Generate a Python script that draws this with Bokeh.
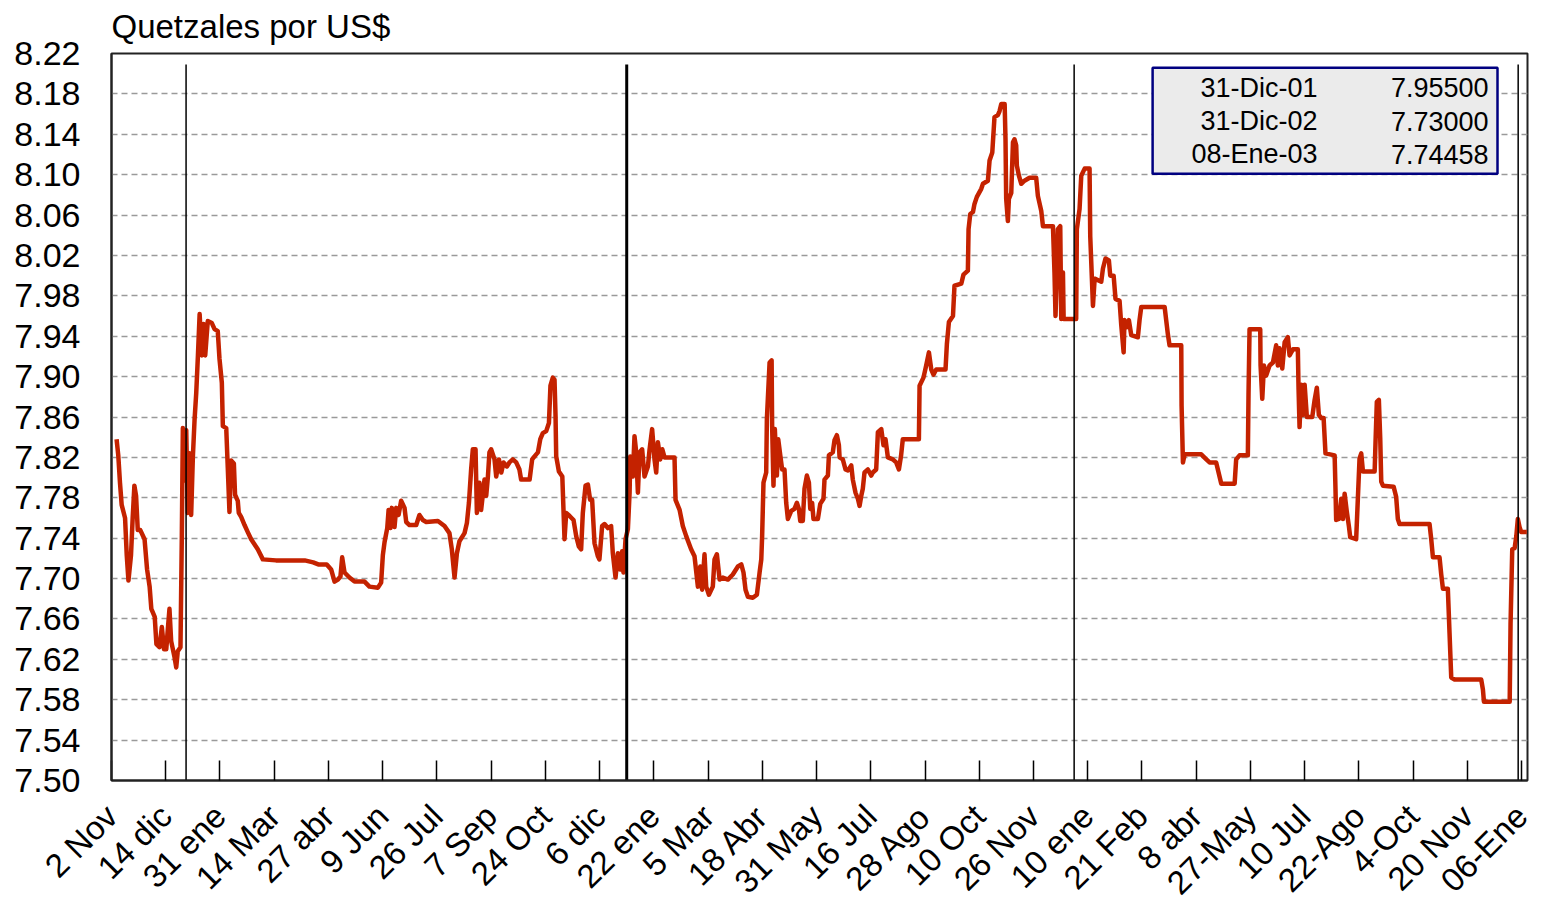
import math
from bokeh.plotting import figure
from bokeh.models import Range1d, FixedTicker, PrintfTickFormatter
from bokeh.core.properties import value
from bokeh.embed import file_html
from bokeh.resources import INLINE

# ---------------- data ----------------
# observation index (trading days since 2-Nov-1999) and exchange rate
obs_index = [
    3, 4, 5, 6, 8, 9, 10, 11.5, 12.5, 13.5, 14.5, 15.5, 17, 19.5, 21, 22.5, 23.5, 25.5, 26.5, 28.3,
    29.7, 31, 32.3, 34.2, 35.2, 37.2, 38.2, 39.1, 40.7, 41.5, 42.1, 43.1, 44.1, 45, 46, 47, 48, 49, 50, 51,
    52, 53.3, 54.3, 55.3, 56.8, 59.2, 60.8, 62.7, 63.7, 65.1, 65.7, 67.7, 68.6, 69.6, 70.6, 72.2, 72.9, 74.5, 75.1, 76.5,
    78.5, 80.4, 82.4, 86.3, 89.3, 97, 114, 119, 122, 127, 129.6, 131.6, 133.6, 135.1, 136.1, 137.5, 140.4, 143.4, 149.3, 152.2,
    157.2, 159.1, 160.1, 161.1, 162.7, 163.5, 164.6, 165.4, 167, 168, 169.4, 170.9, 172.9, 173.9, 175.8, 179.8, 181.7, 183.7, 185.7, 192.6,
    196.5, 199.4, 200.8, 202.4, 203.8, 205.3, 208.3, 209.7, 210.9, 212.2, 213.2, 214.8, 215.6, 217.1, 218.1, 220.1, 221.1, 222.1, 223, 224,
    226, 227, 228.6, 230, 231.3, 233.3, 234.8, 236.8, 238.8, 240.7, 241.7, 246.7, 248.2, 249.6, 251.6, 253, 254.5, 256.5, 258.1, 259,
    260.4, 261.4, 262, 262.4, 264, 266, 267.3, 268.3, 270.3, 272.6, 274.2, 275.7, 277.1, 278.1, 279.7, 281.1, 282.4, 283.6, 285, 287,
    287.9, 289.5, 290.9, 292.9, 294.8, 295.8, 297.4, 298.8, 300.1, 301.3, 302.1, 303.3, 304.7, 305.7, 306.1, 307.6, 308.6, 309.6, 310.6, 311.6,
    313.1, 314.5, 316.5, 317.5, 319, 320.4, 321.4, 322.4, 323.8, 325, 326.3, 332.2, 332.8, 335.2, 337.1, 339.1, 342, 344, 346, 347.4,
    348.5, 349.9, 350.9, 352.5, 354.8, 355.8, 357.2, 358.8, 360.7, 363.7, 366.6, 369.6, 371.6, 372.9, 374.1, 375.5, 378.4, 380.8, 382.4, 383.4,
    383.9, 384.7, 386.3, 386.7, 388.3, 389.5, 389.8, 390.6, 391.4, 392.6, 393.4, 394.6, 395.7, 397.1, 398.1, 399.1, 401.1, 403, 404.4, 405.6,
    406.4, 407.9, 408.9, 410.3, 411.5, 412.3, 413.4, 414.2, 416.8, 418.2, 420.1, 420.7, 422.7, 423.3, 425.6, 426.6, 428, 429.2, 429.6, 431.5,
    433.1, 434.5, 436.5, 437.4, 439, 440.4, 441.4, 442.4, 443.3, 444.3, 446.3, 448.3, 449.2, 451.2, 452.2, 454.2, 455.5, 456.7, 458.1, 461,
    463, 464.6, 465.9, 466.9, 476.4, 476.8, 479.1, 480.7, 482.3, 483.7, 485, 486.6, 492.1, 492.9, 494.1, 496.5, 497.4, 501.4, 502.7, 505.3,
    505.7, 506.7, 508.3, 509.2, 510.6, 513.2, 514.2, 517.1, 518.1, 519.7, 521, 523, 524, 525, 527, 527.5, 527.9, 528.9, 529.5, 530.9,
    531.9, 532.8, 533.8, 534.2, 535.4, 536.8, 538.7, 541.7, 545.6, 546.6, 548.6, 549.6, 555.5, 556.4, 557, 557.8, 558.4, 559.8, 560.4, 561.4,
    561.8, 569.2, 569.6, 571.2, 572.2, 574.2, 577.1, 577.5, 579.1, 580.1, 584, 585, 586.5, 588.5, 589.3, 591.3, 592.4, 594.8, 595.8, 597.2,
    597.7, 599.1, 600.3, 601.7, 605.6, 606.6, 607.6, 621.4, 622.3, 623.3, 624.3, 631.2, 631.4, 632.2, 633.2, 643, 646, 647.9, 651.8, 654.8,
    662.7, 663.6, 665.6, 670.5, 670.9, 671.5, 677.8, 678, 679, 680, 681.3, 683.3, 685.3, 687.2, 688.2, 689.2, 690.8, 692.2, 694.1, 695.1,
    697.1, 700, 700.4, 701, 702, 703, 704, 705.3, 708.5, 709.9, 711.2, 712.4, 713.8, 715.2, 716.3, 721.7, 722.2, 722.6, 724.2, 725.6,
    726.6, 727.6, 728.9, 730.1, 730.9, 734.4, 735.4, 736.4, 737.4, 738.4, 745.3, 745.9, 746.6, 747.8, 748.6, 749.2, 750.2, 756.5, 758, 759,
    760, 777.7, 778.7, 779.7, 783.6, 784.6, 785.6, 788.5, 789.5, 790.5, 792.5, 808.2, 809.2, 809.8, 825, 825.5, 826.5, 827.9, 828.9, 829.8,
    830.8, 831.8, 835.1,
]
rate = [
    7.838, 7.822, 7.795, 7.773, 7.760, 7.723, 7.698, 7.723, 7.760, 7.792, 7.782, 7.748, 7.748, 7.739, 7.709, 7.692, 7.670, 7.662, 7.635, 7.632,
    7.652, 7.630, 7.630, 7.670, 7.638, 7.622, 7.612, 7.628, 7.632, 7.743, 7.849, 7.797, 7.847, 7.765, 7.824, 7.763, 7.820, 7.857, 7.884, 7.921,
    7.962, 7.921, 7.952, 7.921, 7.955, 7.953, 7.947, 7.945, 7.918, 7.894, 7.851, 7.849, 7.810, 7.766, 7.817, 7.814, 7.783, 7.777, 7.765, 7.761,
    7.753, 7.746, 7.739, 7.729, 7.719, 7.718, 7.718, 7.716, 7.714, 7.714, 7.709, 7.697, 7.699, 7.702, 7.721, 7.706, 7.701, 7.697, 7.697, 7.692,
    7.691, 7.696, 7.723, 7.736, 7.750, 7.768, 7.750, 7.770, 7.751, 7.770, 7.763, 7.777, 7.770, 7.756, 7.753, 7.753, 7.763, 7.758, 7.756, 7.757,
    7.752, 7.745, 7.729, 7.701, 7.725, 7.737, 7.745, 7.755, 7.775, 7.808, 7.828, 7.828, 7.765, 7.795, 7.768, 7.798, 7.782, 7.801, 7.825, 7.828,
    7.818, 7.801, 7.818, 7.805, 7.815, 7.811, 7.815, 7.818, 7.815, 7.808, 7.798, 7.798, 7.818, 7.821, 7.825, 7.838, 7.844, 7.846, 7.854, 7.891,
    7.899, 7.897, 7.861, 7.821, 7.806, 7.801, 7.739, 7.765, 7.762, 7.758, 7.742, 7.732, 7.729, 7.765, 7.792, 7.793, 7.778, 7.778, 7.735, 7.722,
    7.719, 7.752, 7.754, 7.750, 7.752, 7.725, 7.701, 7.725, 7.709, 7.727, 7.706, 7.739, 7.749, 7.785, 7.821, 7.801, 7.841, 7.825, 7.785, 7.825,
    7.828, 7.801, 7.811, 7.828, 7.848, 7.818, 7.805, 7.835, 7.818, 7.828, 7.820, 7.820, 7.778, 7.768, 7.752, 7.742, 7.729, 7.722, 7.692, 7.712,
    7.689, 7.724, 7.692, 7.684, 7.692, 7.719, 7.724, 7.699, 7.701, 7.699, 7.704, 7.712, 7.714, 7.706, 7.689, 7.682, 7.681, 7.684, 7.706, 7.719,
    7.742, 7.795, 7.805, 7.858, 7.914, 7.916, 7.851, 7.792, 7.848, 7.802, 7.838, 7.822, 7.808, 7.808, 7.775, 7.759, 7.767, 7.769, 7.775, 7.769,
    7.757, 7.757, 7.789, 7.802, 7.795, 7.769, 7.775, 7.759, 7.759, 7.774, 7.779, 7.798, 7.802, 7.822, 7.825, 7.837, 7.842, 7.832, 7.820, 7.818,
    7.808, 7.807, 7.812, 7.798, 7.785, 7.779, 7.772, 7.782, 7.789, 7.805, 7.808, 7.802, 7.805, 7.808, 7.845, 7.848, 7.832, 7.838, 7.820, 7.818,
    7.815, 7.808, 7.822, 7.838, 7.838, 7.891, 7.899, 7.911, 7.924, 7.907, 7.902, 7.907, 7.907, 7.932, 7.954, 7.960, 7.990, 7.992, 8.001, 8.005,
    8.046, 8.061, 8.063, 8.071, 8.078, 8.086, 8.091, 8.094, 8.114, 8.122, 8.157, 8.159, 8.163, 8.170, 8.170, 8.135, 8.076, 8.054, 8.076, 8.082,
    8.132, 8.135, 8.129, 8.109, 8.099, 8.091, 8.094, 8.097, 8.097, 8.079, 8.064, 8.049, 8.049, 8.003, 7.960, 8.000, 8.046, 8.049, 7.957, 8.003,
    7.957, 7.957, 8.046, 8.066, 8.099, 8.106, 8.106, 8.039, 7.970, 7.997, 7.994, 8.007, 8.017, 8.015, 8.000, 8.000, 7.977, 7.975, 7.951, 7.924,
    7.956, 7.949, 7.956, 7.941, 7.939, 7.956, 7.969, 7.969, 7.956, 7.942, 7.931, 7.931, 7.871, 7.815, 7.823, 7.823, 7.818, 7.815, 7.815, 7.794,
    7.794, 7.818, 7.822, 7.822, 7.884, 7.947, 7.947, 7.911, 7.878, 7.911, 7.901, 7.911, 7.914, 7.931, 7.911, 7.928, 7.908, 7.934, 7.939, 7.921,
    7.927, 7.927, 7.889, 7.850, 7.892, 7.862, 7.892, 7.860, 7.860, 7.877, 7.889, 7.862, 7.859, 7.859, 7.824, 7.822, 7.789, 7.758, 7.759, 7.779,
    7.759, 7.784, 7.766, 7.752, 7.741, 7.739, 7.779, 7.819, 7.824, 7.806, 7.806, 7.839, 7.875, 7.877, 7.839, 7.796, 7.792, 7.791, 7.781, 7.759,
    7.754, 7.754, 7.739, 7.721, 7.721, 7.704, 7.690, 7.690, 7.646, 7.602, 7.600, 7.600, 7.590, 7.578, 7.578, 7.655, 7.729, 7.730, 7.742, 7.759,
    7.751, 7.746, 7.746,
]

tick_index = [0, 32, 64, 96, 128, 160, 192, 224, 256, 288, 320, 352, 384, 416, 448, 480, 512, 544,
              576, 608, 640, 672, 704, 736, 768, 800, 832]
tick_labels = ["2 Nov", "14 dic", "31 ene", "14 Mar", "27 abr", "9 Jun", "26 Jul", "7 Sep", "24 Oct",
               "6 dic", "22 ene", "5 Mar", "18 Abr", "31 May", "16 Jul", "28 Ago", "10 Oct", "26 Nov",
               "10 ene", "21 Feb", "8 abr", "27-May", "10 Jul", "22-Ago", "4-Oct", "20 Nov", "06-Ene"]
y_ticks = [7.50, 7.54, 7.58, 7.62, 7.66, 7.70, 7.74, 7.78, 7.82, 7.86, 7.90, 7.94, 7.98,
           8.02, 8.06, 8.10, 8.14, 8.18, 8.22]
year_end_index = [44, 304, 568, 830]
legend_dates = ["31-Dic-01", "31-Dic-02", "08-Ene-03"]
legend_values = [7.95500, 7.73000, 7.74458]
title_text = "Quetzales por US$"

# ---------------- figure ----------------
FONT = "Liberation Sans"
p = figure(frame_width=1416, frame_height=727,
           min_border_left=111, min_border_right=8, min_border_top=53, min_border_bottom=118,
           x_range=Range1d(0, 835.5), y_range=Range1d(7.50, 8.22),
           output_backend="svg", toolbar_location=None, title=title_text)
p.background_fill_color = "white"
p.border_fill_color = "white"
p.outline_line_color = "#222222"
p.outline_line_width = 2

p.title.text_font = FONT
p.title.text_font_size = "33px"
p.title.text_font_style = "normal"
p.title.align = "left"
p.title.vertical_align = "top"
p.title.text_color = "black"
p.title.standoff = 14

# grid
p.xgrid.grid_line_color = None
p.ygrid.ticker = FixedTicker(ticks=y_ticks)
p.ygrid.grid_line_color = "#9a9a9a"
p.ygrid.grid_line_dash = "6 4"
p.ygrid.grid_line_width = 1.5

# x axis
xa = p.xaxis[0]
xa.ticker = FixedTicker(ticks=tick_index)
xa.major_label_overrides = {t: l for t, l in zip(tick_index, tick_labels)}
xa.major_label_orientation = math.pi / 4
xa.major_label_text_font = FONT
xa.major_label_text_font_size = "33px"
xa.major_label_text_color = "black"
xa.major_label_standoff = 30
xa.major_tick_in = 20
xa.major_tick_out = 0
xa.minor_tick_line_color = None
xa.major_tick_line_color = "black"
xa.major_tick_line_width = 1.5
xa.axis_line_color = "#222222"
xa.axis_line_width = 2

# y axis
ya = p.yaxis[0]
ya.ticker = FixedTicker(ticks=y_ticks)
ya.formatter = PrintfTickFormatter(format="%.2f")
ya.major_label_text_font = FONT
ya.major_label_text_font_size = "34px"
ya.major_label_text_color = "black"
ya.major_tick_line_color = None
ya.minor_tick_line_color = None
ya.major_label_standoff = 25
ya.axis_line_color = "#222222"
ya.axis_line_width = 2

# data line
p.line(obs_index, rate, line_color="#C42200", line_width=4.5, line_join="round")

# year-end markers
widths = [1.5, 3, 1.5, 1.5]
for xi, w in zip(year_end_index, widths):
    p.segment(x0=[xi], y0=[7.50], x1=[xi], y1=[8.209], line_color="black", line_width=w)

# info box (glyphs, so that text renders above it)
p.quad(left=[614.3], right=[817.8], top=[8.206], bottom=[8.101],
       fill_color="#EBEBEB", fill_alpha=1.0, line_color="#000080", line_width=2.5, line_alpha=1.0)
row_y = [8.186, 8.153, 8.120]
p.text(x=[711.6] * 3, y=row_y, text=legend_dates, text_align="right", text_baseline="middle",
       text_font=value(FONT), text_font_size="27px", text_color="black")
p.text(x=[812.5] * 3, y=row_y, text=["%.5f" % v for v in legend_values],
       text_align="right", text_baseline="middle",
       text_font=value(FONT), text_font_size="27px", text_color="black")

open("out.html", "w").write(file_html(p, INLINE))
